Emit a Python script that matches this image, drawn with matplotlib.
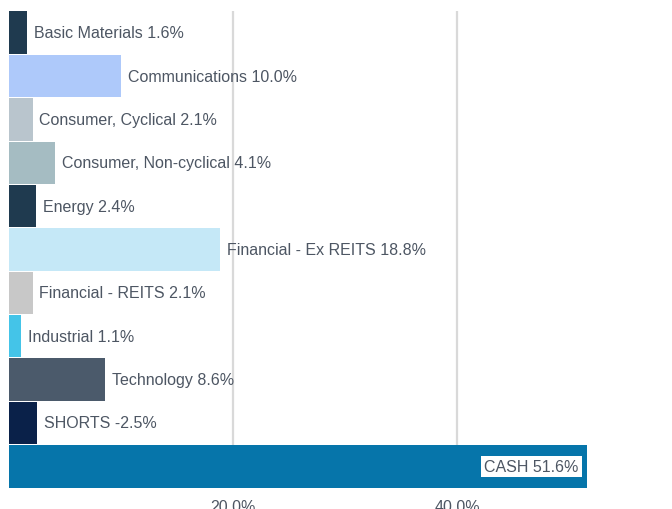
import matplotlib
matplotlib.use("Agg")
import matplotlib.pyplot as plt

categories = ["Basic Materials", "Communications", "Consumer, Cyclical", "Consumer, Non-cyclical",
              "Energy", "Financial - Ex REITS", "Financial - REITS", "Industrial",
              "Technology", "SHORTS", "CASH"]
values = [1.6, 10.0, 2.1, 4.1, 2.4, 18.8, 2.1, 1.1, 8.6, -2.5, 51.6]
colors = ["#1f3a4f", "#aec9fa", "#b9c5cd", "#a5bcc2", "#1f3a4f", "#c5e8f7",
          "#c8c8c8", "#44c4e8", "#4b5a6b", "#0a2149", "#0675aa"]
xticks = [20, 40]
xticklabels = ["20.0%", "40.0%"]

plt.rcParams['font.family'] = ['Liberation Sans', 'DejaVu Sans']
fig = plt.figure(figsize=(6.72, 5.10), dpi=100)
W, H = 672, 510
left, right, top, bottom = 9, 651, 12, 489
ax = fig.add_axes([left / W, 1 - bottom / H, (right - left) / W, (bottom - top) / H])

ypos = list(range(len(categories)))
widths = [abs(v) for v in values]
ax.barh(ypos, widths, height=0.98, color=colors, zorder=2)
ax.set_ylim(len(categories) - 0.5, -0.5)
ax.set_xlim(0, (right - left) / 11.2)

txtc = "#4d5663"
fs = 11.5
for i, (c, v, w) in enumerate(zip(categories, values, widths)):
    label = f"{c} {v:.1f}%"
    if c == "CASH":
        ax.annotate(label, (w, i), xytext=(-6, 0), textcoords="offset points",
                    ha="right", va="center", fontsize=fs, color=txtc, zorder=3,
                    bbox=dict(boxstyle="square,pad=0.2", fc="white", ec="none"))
    else:
        ax.annotate(label, (w, i), xytext=(5, 0), textcoords="offset points",
                    ha="left", va="center", fontsize=fs, color=txtc, zorder=3)

ax.set_xticks(xticks)
ax.set_xticklabels(xticklabels, fontsize=fs, color=txtc)
ax.set_yticks([])
ax.tick_params(axis="x", length=0, pad=8)
ax.grid(axis="x", color="#d9d9d9", linewidth=1.6, zorder=1)
for s in ax.spines.values():
    s.set_visible(False)

fig.savefig("out.png", dpi=100)
